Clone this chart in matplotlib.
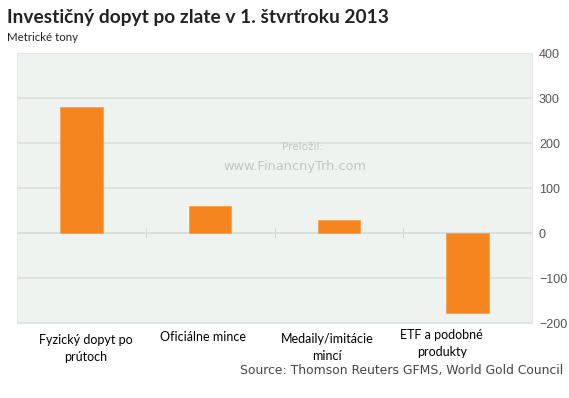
import matplotlib.pyplot as plt
import matplotlib.transforms as mtransforms
import numpy as np

# data
categories = ['Fyzický dopyt po\nprútoch', 'Oficiálne mince', 'Medaily/imitácie\nmincí', 'ETF a podobné\nprodukty']
values = [280, 61, 30, -177]
yticks = [-200, -100, 0, 100, 200, 300, 400]

plt.rcParams['font.family'] = ['Lato', 'DejaVu Sans']

fig = plt.figure(figsize=(5.69, 3.98), dpi=100)
ax = fig.add_axes([0.0299, 0.1884, 0.9051, 0.6784])

x = np.arange(len(categories))
ax.set_facecolor('#eef3f0')
ax.bar(x, values, width=0.33, color='#f5861f', edgecolor='#f6a050', linewidth=0.6, zorder=3)

ax.set_xlim(-0.5, len(categories) - 0.5)
ax.set_ylim(-200, 400)
ax.set_yticks(yticks)
ax.yaxis.tick_right()
ax.tick_params(axis='y', length=0, pad=5, labelsize=9, labelcolor='#555555')
for lab in ax.get_yticklabels():
    lab.set_family(['Liberation Sans', 'DejaVu Sans'])
ax.grid(axis='y', color='#d8e1dc', linewidth=1.2, zorder=0)
ax.axhline(0, color='#d3ddd8', linewidth=1.2, zorder=1)
# small separators between categories
ax.vlines(x[:-1] + 0.5, -12, 12, color='#cfd8d3', linewidth=0.8, zorder=1)

ax.set_xticks(x)
ax.set_xticklabels(categories, fontsize=9, linespacing=1.5)
ax.tick_params(axis='x', length=0, pad=8)

# the labels in the original are not exactly centred under the bars
shifts = [(4, 0), (-7, 3), (-12, 1), (-26, 5)]
for lab, (dx, dy) in zip(ax.get_xticklabels(), shifts):
    lab.set_transform(lab.get_transform() + mtransforms.ScaledTranslation(dx / 100, dy / 100, fig.dpi_scale_trans))

for s in ax.spines.values():
    s.set_color('#e2e8e5')
    s.set_linewidth(0.8)

fig.text(0.012, 0.955, 'Investičný dopyt po zlate v 1. štvrťroku 2013', fontsize=13.8,
         fontweight='bold', color='#222222', va='center')
fig.text(0.012, 0.905, 'Metrické tony', fontsize=8.3, color='#222222', va='center')
fig.text(0.99, 0.07, 'Source: Thomson Reuters GFMS, World Gold Council', fontsize=8.9,
         color='#444444', ha='right', va='center', family=['DejaVu Sans'])

ax.text(0.555, 0.652, 'Preložil:', transform=ax.transAxes, ha='center', va='center',
        fontsize=7.5, color='#c4c4c4', family=['DejaVu Sans'])
ax.text(0.54, 0.578, 'www.FinancnyTrh.com', transform=ax.transAxes, ha='center', va='center',
        fontsize=9.3, color='#c4c4c4', family=['DejaVu Sans'])

fig.savefig('out.png', dpi=100)
